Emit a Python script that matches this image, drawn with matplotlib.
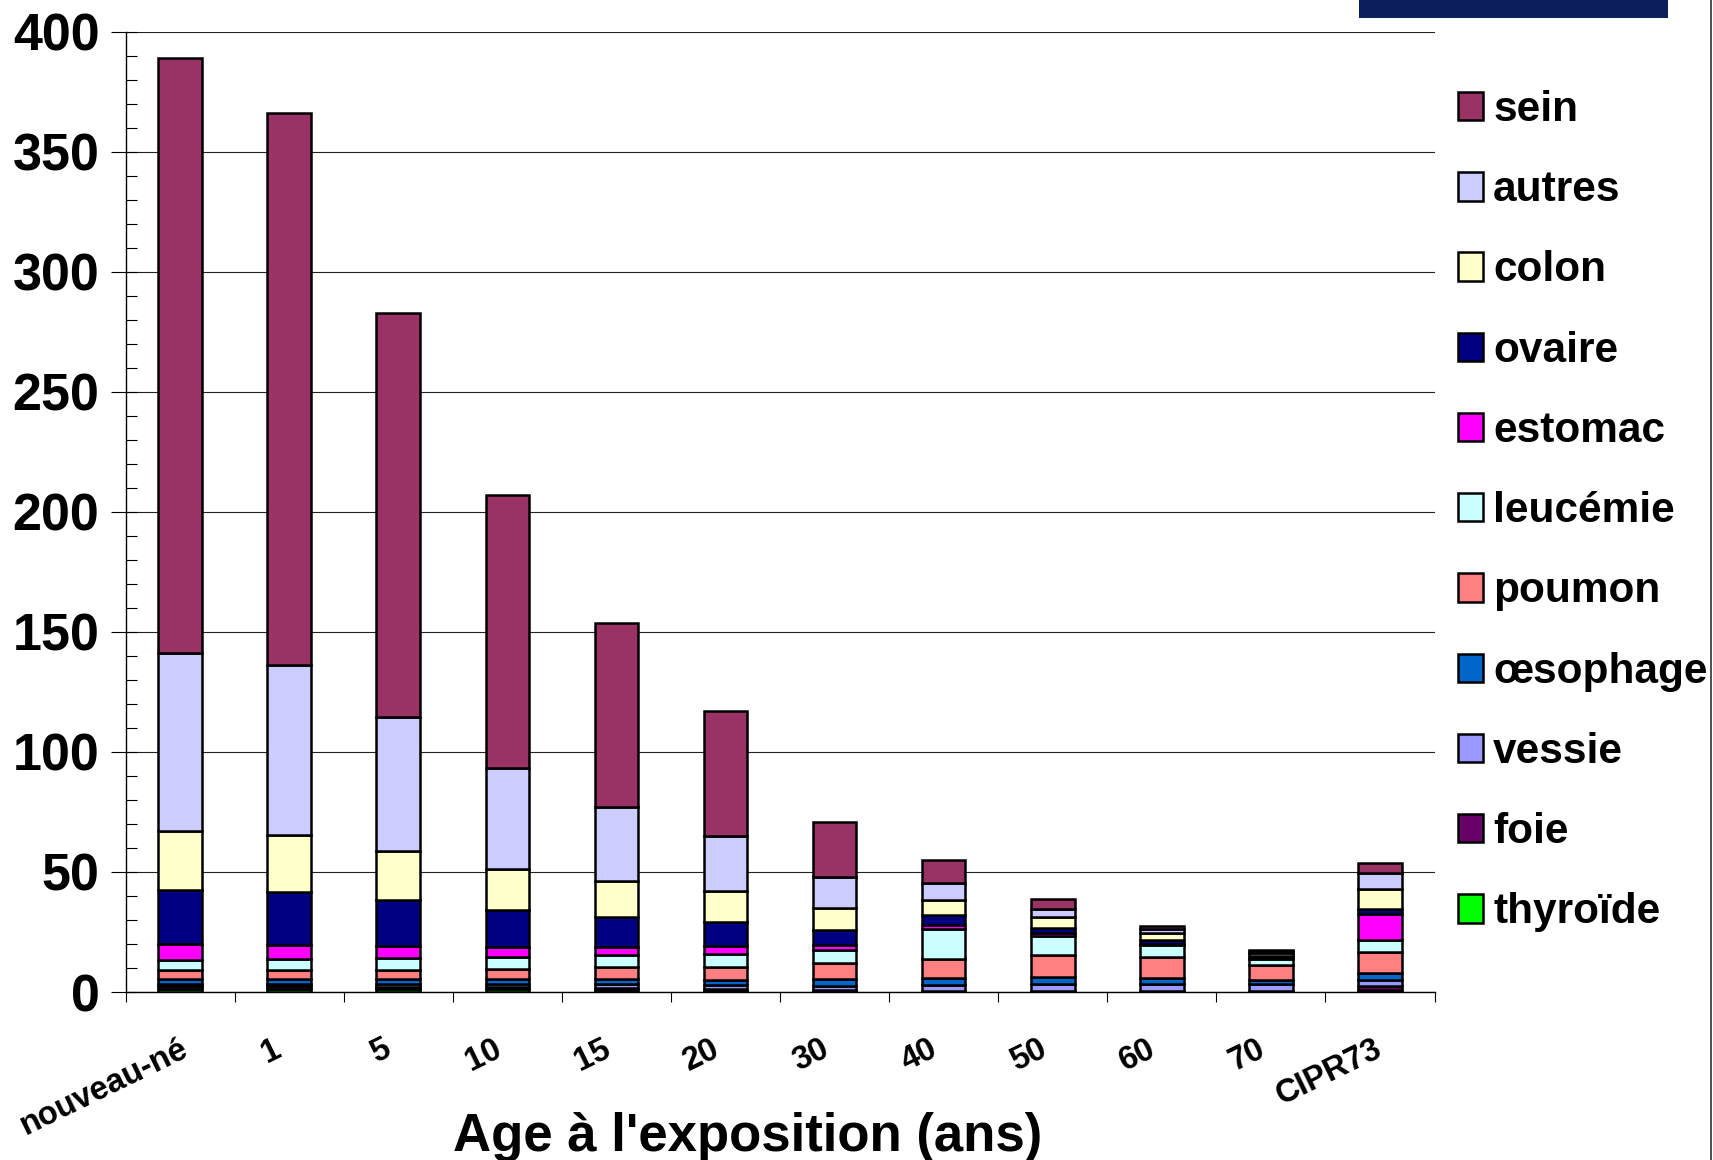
import matplotlib
matplotlib.use("Agg")
import matplotlib.pyplot as plt
from matplotlib.patches import Rectangle, Patch
from matplotlib.lines import Line2D
from matplotlib.ticker import MultipleLocator, FixedLocator
from matplotlib.transforms import ScaledTranslation
import numpy as np

plt.rcParams['font.family'] = ['Liberation Sans', 'DejaVu Sans']
plt.rcParams['font.weight'] = 'bold'

# Age at exposure categories
categories = ['nouveau-né', '1', '5', '10', '15', '20', '30', '40', '50', '60', '70', 'CIPR73']

# Cancer sites, stacked from bottom to top
sites = ['thyroïde', 'foie', 'vessie', 'œsophage', 'poumon', 'leucémie',
         'estomac', 'ovaire', 'colon', 'autres', 'sein']

thyroide = [1.3, 1.3, 1.2, 1.2, 0.7, 0.6, 0.3, 0.2, 0.2, 0.2, 0.1, 0.9]
foie     = [1.0, 1.0, 1.0, 0.8, 1.0, 0.8, 0.4, 0.3, 0.3, 0.3, 0.2, 1.5]
vessie   = [1.2, 1.2, 1.3, 1.4, 1.6, 1.6, 2.0, 2.5, 2.8, 3.0, 2.9, 2.7]
oesophage= [1.8, 1.8, 2.1, 2.2, 2.0, 2.1, 2.6, 2.8, 2.95, 2.5, 1.7, 3.0]
poumon   = [3.7, 3.7, 3.7, 4.1, 5.1, 5.3, 6.8, 8.1, 9.05, 8.6, 6.5, 8.6]
leucemie = [4.5, 4.6, 4.7, 4.9, 4.9, 5.3, 5.3, 12.5, 7.9, 4.8, 2.5, 4.8]
estomac  = [6.4, 6.1, 5.3, 4.15, 3.45, 3.5, 2.0, 1.4, 1.4, 0.6, 0.4, 11.1]
ovaire   = [22.5, 22.0, 18.9, 15.55, 12.5, 10.0, 6.6, 4.1, 2.1, 1.8, 0.8, 2.1]
colon    = [24.5, 23.9, 20.6, 17.1, 14.85, 12.9, 9.0, 6.6, 4.55, 2.9, 1.2, 8.4]
autres   = [74.4, 70.5, 55.9, 41.9, 31.0, 22.8, 12.9, 6.9, 3.45, 1.7, 0.7, 6.5]
sein     = [247.7, 230.2, 168.3, 113.7, 76.7, 52.1, 22.9, 9.7, 3.9, 1.1, 0.4, 4.2]

series = [thyroide, foie, vessie, oesophage, poumon, leucemie,
          estomac, ovaire, colon, autres, sein]
colors = ['#00FF00', '#660066', '#9999FF', '#0066CC', '#FF8080', '#CCFFFF',
          '#FF00FF', '#000080', '#FFFFCC', '#CCCCFF', '#993366']

y_ticks = [0, 50, 100, 150, 200, 250, 300, 350, 400]

W, H = 1713, 1160
fig = plt.figure(figsize=(W / 100, H / 100), dpi=100)
ax = fig.add_axes([125.6 / W, 1 - 992 / H, (1434.5 - 125.6) / W, (992 - 31.7) / H])

x = np.arange(len(categories))
bottom = np.zeros(len(categories))
for vals, col in zip(series, colors):
    ax.bar(x, vals, width=0.4, bottom=bottom, color=col, edgecolor='black',
           linewidth=1.8, zorder=3)
    bottom += np.array(vals)

ax.set_xlim(-0.5, len(categories) - 0.5)
ax.set_ylim(0, 400)

# Spines
for s in ['top', 'right']:
    ax.spines[s].set_visible(False)
ax.spines['left'].set_linewidth(1.0)
ax.spines['bottom'].set_linewidth(1.0)
ax.spines['left'].set_zorder(4)
ax.spines['bottom'].set_zorder(4)

# Horizontal gridlines
ax.set_yticks(y_ticks)
ax.yaxis.set_minor_locator(MultipleLocator(10))
ax.yaxis.remove_overlapping_locs = False
ax.grid(axis='y', which='major', color='#222222', linewidth=0.8, zorder=0)
ax.tick_params(axis='y', which='major', direction='out', length=10.8, width=0.8,
               pad=8.0, labelsize=37.5)
ax.tick_params(axis='y', which='minor', direction='in', length=7.9, width=0.8)
for lab in ax.get_yticklabels():
    lab.set_fontweight('bold')

# Category labels under bars, tick marks at category boundaries
ax.set_xticks(x)
ax.set_xticklabels(categories)
ax.xaxis.set_minor_locator(FixedLocator(np.arange(-0.5, len(categories), 1.0)))
ax.tick_params(axis='x', which='major', length=0, pad=30, labelsize=23.5)
ax.tick_params(axis='x', which='minor', direction='out', length=7, width=0.8)
for lab in ax.get_xticklabels():
    lab.set_rotation(26)
    lab.set_ha('right')
    lab.set_va('top')
    lab.set_rotation_mode('anchor')
    lab.set_fontweight('bold')

# Short rotated labels sit a little further left than long ones
fig.canvas.draw()
renderer = fig.canvas.get_renderer()
for lab in ax.get_xticklabels():
    w = lab.get_window_extent(renderer).width
    dx = -19.7 + 0.11 * w
    lab.set_transform(lab.get_transform() + ScaledTranslation(dx / 100, 0, fig.dpi_scale_trans))

fig.text(748 / W, 9 / H, "Age à l'exposition (ans)", ha='center', va='baseline',
         fontsize=38, fontweight='bold')

# Legend, top entry first
handles = [Patch(facecolor=c, edgecolor='black', linewidth=1.8)
           for c in colors[::-1]]
fig.legend(handles, sites[::-1], loc='upper left',
           bbox_to_anchor=(1458 / W, 1 - 90 / H), frameon=False,
           prop={'weight': 'bold', 'size': 30.5},
           handlelength=0.58, handleheight=0.65, handletextpad=0.25,
           labelspacing=0.95, borderpad=0, borderaxespad=0)

# Header band and page edge
fig.patches.append(Rectangle((1359 / W, 1 - 17.7 / H), (1668 - 1359) / W, 17.7 / H,
                             transform=fig.transFigure, facecolor='#0C1F5C',
                             edgecolor='none'))
fig.lines.append(Line2D([1710.5 / W, 1710.5 / W], [0, 1], transform=fig.transFigure,
                        color='#333333', linewidth=1.2))

fig.savefig('out.png', dpi=100)
